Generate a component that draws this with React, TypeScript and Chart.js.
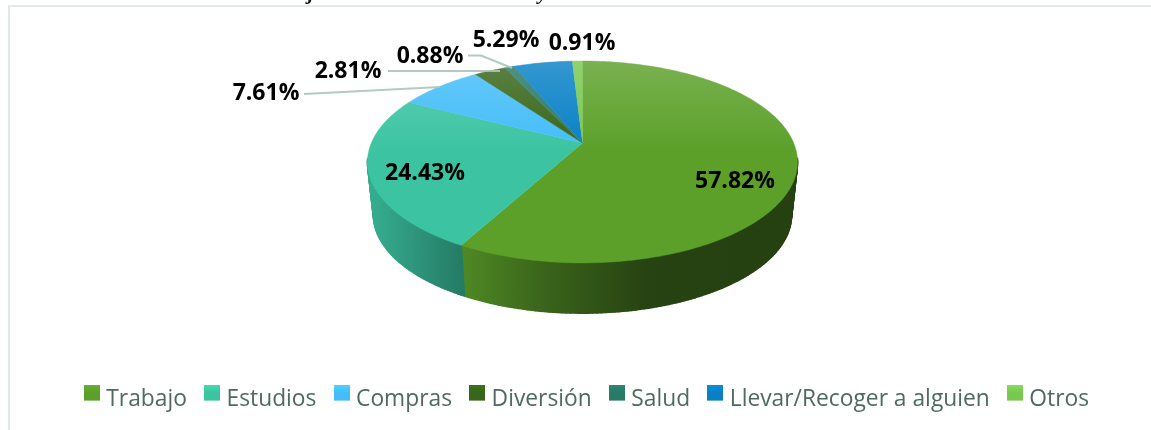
import React, { useEffect, useRef } from "react";
import { Chart, registerables } from "chart.js";

Chart.register(...registerables);

const categories = ["Trabajo", "Estudios", "Compras", "Diversión", "Salud", "Llevar/Recoger a alguien", "Otros"];
const shares = [57.82, 24.43, 7.61, 2.81, 0.88, 5.29, 0.91];
const colors = ["#5ca02a", "#3cc4a2", "#44bdf9", "#38661a", "#2a7a68", "#0880c6", "#78c850"];
const labelCentres = [[735, 181], [425, 173], [266, 93], [348, 71], [430, 56], [506, 40], [582, 43]];
const leaderLines = [
  [[304, 94], [440, 87]],
  [[388, 71], [500, 71]],
  [[468, 55.5], [481, 55.5], [512, 68]],
];
const sideShades = [
  [[0, 0.85], [0.25, 0.62], [0.55, 0.42], [1, 0.4]],
  [[0, 0.88], [1, 0.62]],
];

const pieGeometry = { cx: 582.5, apexY: 143, a: 70.5, c: -0.1881, A: 211.2, sideScale: 0.972, ellipseY: 162, sideDrop: 53 };

function project(theta: number) {
  const g = pieGeometry;
  const u = Math.sin(theta);
  const v = -Math.cos(theta);
  const d = 1 + g.c * v;
  return { x: g.cx + (g.A * u) / d, y: (g.a * v + g.apexY) / d, v };
}
function projectLow(theta: number) {
  const g = pieGeometry;
  const p = project(theta);
  return {
    x: g.cx + (p.x - g.cx) * g.sideScale,
    y: g.ellipseY + (p.y - g.ellipseY) * g.sideScale + g.sideDrop,
    v: p.v,
  };
}
function shade(hex: string, f: number) {
  const n = parseInt(hex.slice(1), 16);
  const r = Math.min(255, Math.round(((n >> 16) & 255) * f));
  const g = Math.min(255, Math.round(((n >> 8) & 255) * f));
  const b = Math.min(255, Math.round((n & 255) * f));
  return `rgb(${r},${g},${b})`;
}

function samples(start: number, end: number) {
  const steps = Math.max(4, Math.ceil(((end - start) / (Math.PI * 2)) * 360));
  const out: number[] = [];
  for (let i = 0; i <= steps; i++) out.push(start + ((end - start) * i) / steps);
  return out;
}

const pie3d = {
  id: "pie3d",
  beforeDatasetsDraw(chart: any) {
    const ctx = chart.ctx;
    const arcs = chart.getDatasetMeta(0).data;
    ctx.save();
    arcs.forEach((arc: any, i: number) => {
      const t0 = arc.startAngle + Math.PI / 2;
      const t1 = arc.endAngle + Math.PI / 2;
      const ts = samples(t0, t1);
      const front = ts.map(projectLow).filter((p) => p.v >= 0);
      if (!front.length) return;
      const xs = front.map((p) => p.x);
      const grad = ctx.createLinearGradient(Math.min(...xs), 0, Math.max(...xs) + 0.01, 0);
      const stops = sideShades[i] || [[0, 0.7], [1, 0.5]];
      stops.forEach(([o, f]) => grad.addColorStop(o, shade(colors[i], f)));
      ctx.fillStyle = grad;
      ctx.strokeStyle = grad;
      ctx.lineWidth = 1.6;
      ctx.lineJoin = "round";
      for (let k = 0; k < ts.length - 1; k++) {
        const a = project(ts[k]);
        const b = project(ts[k + 1]);
        if (a.v < 0.15 || b.v < 0.15) continue;
        const c = projectLow(ts[k + 1]);
        const d = projectLow(ts[k]);
        ctx.beginPath();
        ctx.moveTo(a.x, a.y);
        ctx.lineTo(b.x, b.y);
        ctx.lineTo(c.x, c.y);
        ctx.lineTo(d.x, d.y);
        ctx.closePath();
        ctx.fill();
        ctx.stroke();
      }
    });
    arcs.forEach((arc: any, i: number) => {
      const t0 = arc.startAngle + Math.PI / 2;
      const t1 = arc.endAngle + Math.PI / 2;
      ctx.beginPath();
      ctx.moveTo(pieGeometry.cx, pieGeometry.apexY);
      samples(t0, t1).forEach((t) => {
        const p = project(t);
        ctx.lineTo(p.x, p.y);
      });
      ctx.closePath();
      ctx.fillStyle = colors[i];
      ctx.strokeStyle = colors[i];
      ctx.lineWidth = 0.4;
      ctx.fill();
      ctx.stroke();
      const glow = ctx.createLinearGradient(0, 61, 0, 150);
      glow.addColorStop(0, "rgba(255,255,255,0.18)");
      glow.addColorStop(1, "rgba(255,255,255,0)");
      ctx.fillStyle = glow;
      ctx.fill();
    });
    ctx.restore();
    return false;
  },
  afterDraw(chart: any) {
    const ctx = chart.ctx;
    ctx.save();
    // frame
    ctx.fillStyle = "#e2e8e6";
    ctx.fillRect(8, 5, 1143, 2);
    ctx.fillRect(8, 5, 2, 425);
    // clipped title fragments
    ctx.fillStyle = "#111";
    ctx.font = "italic bold 21px 'Liberation Serif'";
    ctx.textAlign = "center";
    ctx.textBaseline = "alphabetic";
    ctx.fillText("j", 311, -1);
    ctx.fillText("y", 543, -1);
    // leader lines
    ctx.strokeStyle = "rgba(172,196,186,0.9)";
    ctx.lineWidth = 2;
    leaderLines.forEach((line) => {
      ctx.beginPath();
      line.forEach(([x, y], k) => (k ? ctx.lineTo(x, y) : ctx.moveTo(x, y)));
      ctx.stroke();
    });
    // labels
    ctx.fillStyle = "#000";
    ctx.font = "bold 23px 'Open Sans'";
    ctx.textBaseline = "middle";
    shares.forEach((s, i) => {
      ctx.fillText(`${s.toFixed(2)}%`, labelCentres[i][0], labelCentres[i][1]);
    });
    ctx.restore();
  },
};

function legendSwatch(color: string) {
  const c = document.createElement("canvas");
  c.width = 16;
  c.height = 30;
  const x = c.getContext("2d")!;
  const g = x.createLinearGradient(0, 0, 0, 16);
  g.addColorStop(0, shade(color, 1.12));
  g.addColorStop(0.5, color);
  g.addColorStop(1, color);
  x.fillStyle = g;
  x.fillRect(0, 0, 16, 16);
  return c;
}

export default function App() {
  const ref = useRef<HTMLCanvasElement>(null);
  useEffect(() => {
    document.documentElement.style.overflow = "hidden";
    const chart = new Chart(ref.current!, {
      type: "pie",
      data: {
        labels: categories,
        datasets: [{ data: shares, backgroundColor: colors, borderWidth: 0 }],
      },
      plugins: [pie3d],
      options: {
        responsive: false,
        animation: false,
        layout: { padding: { top: 60, bottom: 9, left: 27, right: 0 } },
        plugins: {
          tooltip: { enabled: false },
          legend: {
            position: "bottom",
            labels: {
              usePointStyle: true,
              boxWidth: 6,
              boxHeight: 16,
              padding: 22.2,
              color: "#4f6b5f",
              font: { family: "'Open Sans'", size: 22.8 },
              generateLabels: () =>
                categories.map((text, i) => ({
                  text,
                  fillStyle: colors[i],
                  strokeStyle: colors[i],
                  fontColor: "#4f6b5f",
                  lineWidth: 0,
                  pointStyle: legendSwatch(colors[i]),
                  index: i,
                })),
            },
          },
        },
      },
    } as any);
    return () => chart.destroy();
  }, []);
  return (
    <canvas
      ref={ref}
      width={1151}
      height={430}
      style={{ position: "fixed", left: 0, top: 0, width: 1151, height: 430, background: "#fff" }}
    />
  );
}
